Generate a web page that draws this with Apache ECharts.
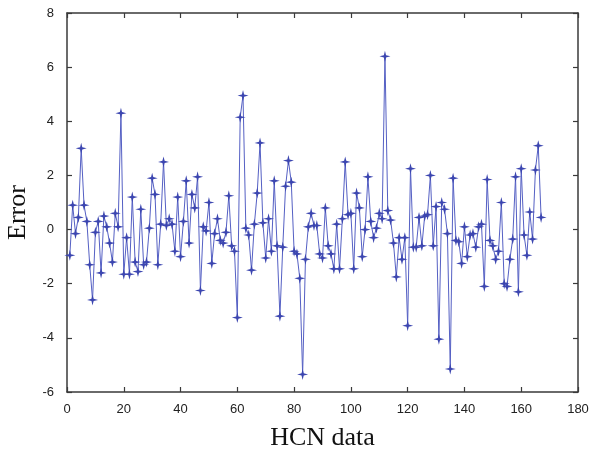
<!DOCTYPE html>
<html>
<head>
<meta charset="utf-8">
<script src="https://cdn.jsdelivr.net/npm/echarts@6/dist/echarts.min.js"></script>
<style>html,body{margin:0;padding:0;background:#fff}#c{width:592px;height:455px}</style>
</head>
<body>
<div id="c"></div>
<script>
// Error values for HCN data samples 1..N
const errors = [
  -0.95, 0.9, -0.15, 0.45, 3.0, 0.9, 0.3, -1.3, -2.6, -0.1,
  0.3, -1.6, 0.5, 0.1, -0.5, -1.2, 0.6, 0.1, 4.3, -1.65,
  -0.3, -1.65, 1.2, -1.2, -1.55, 0.75, -1.3, -1.2, 0.05, 1.9,
  1.3, -1.3, 0.2, 2.5, 0.15, 0.4, 0.2, -0.8, 1.2, -1.0,
  0.3, 1.8, -0.5, 1.3, 0.8, 1.95, -2.25, 0.1, -0.05, 1.0,
  -1.25, -0.15, 0.4, -0.4, -0.5, -0.1, 1.25, -0.6, -0.8, -3.25,
  4.15, 4.95, 0.05, -0.2, -1.5, 0.2, 1.35, 3.2, 0.25, -1.05,
  0.4, -0.8, 1.8, -0.6, -3.2, -0.65, 1.6, 2.55, 1.75, -0.8,
  -0.9, -1.8, -5.35, -1.1, 0.1, 0.6, 0.15, 0.15, -0.9, -1.05,
  0.8, -0.6, -0.9, -1.45, 0.2, -1.45, 0.4, 2.5, 0.55, 0.6,
  -1.45, 1.35, 0.8, -1.0, 0.0, 1.95, 0.3, -0.3, 0.05, 0.6,
  0.4, 6.4, 0.7, 0.35, -0.5, -1.75, -0.3, -1.1, -0.3, -3.55,
  2.25, -0.65, -0.65, 0.45, -0.6, 0.5, 0.55, 2.0, -0.6, 0.85, -4.05,
  1.0, 0.75, -0.15, -5.15, 1.9, -0.4, -0.45, -1.25, 0.1, -1.0,
  -0.2, -0.15, -0.65, 0.1, 0.2, -2.1, 1.85, -0.4, -0.6, -1.1,
  -0.8, 1.0, -2.0, -2.1, -1.1, -0.35, 1.95, -2.3, 2.25, -0.2,
  -0.95, 0.65, -0.35, 2.2, 3.1, 0.45
];
const xTicks = [0, 20, 40, 60, 80, 100, 120, 140, 160, 180];
const yTicks = [-6, -4, -2, 0, 2, 4, 6, 8];

const points = errors.map((v, i) => [i + 1, v]);
const axisColor = '#3a3a3a';
const star = 'path://M0,-6 L1.2,-1.2 L6,0 L1.2,1.2 L0,6 L-1.2,1.2 L-6,0 L-1.2,-1.2 Z';

const chart = echarts.init(document.getElementById('c'), null, {renderer: 'canvas'});
const xRange = {min: xTicks[0], max: xTicks[xTicks.length - 1], interval: 20};
const yRange = {min: yTicks[0], max: yTicks[yTicks.length - 1], interval: 2};
const tick = {show: true, inside: true, length: 5, lineStyle: {color: axisColor, width: 1.2}};
const line = {show: true, onZero: false, lineStyle: {color: axisColor, width: 1.5}};
const labelStyle = {fontFamily: 'Liberation Sans', fontSize: 13, color: '#222'};
const nameStyle = {fontFamily: 'Liberation Serif', fontSize: 26, color: '#111'};
chart.setOption({
  animation: false,
  backgroundColor: '#fff',
  grid: {left: 67, right: 14, top: 13, bottom: 63, containLabel: false, outerBoundsMode: 'none'},
  xAxis: [
    Object.assign({
      type: 'value', position: 'bottom',
      name: 'HCN data', nameLocation: 'middle', nameGap: 33,
      nameTextStyle: nameStyle,
      axisLine: line, axisTick: tick,
      axisLabel: Object.assign({margin: 11}, labelStyle),
      splitLine: {show: false}
    }, xRange),
    Object.assign({
      type: 'value', position: 'top',
      axisLine: line, axisTick: tick,
      axisLabel: {show: false}, splitLine: {show: false}
    }, xRange)
  ],
  yAxis: [
    Object.assign({
      type: 'value', position: 'left',
      name: 'Error', nameLocation: 'middle', nameGap: 28,
      nameTextStyle: Object.assign({padding: [0, 20, 0, 0]}, nameStyle),
      axisLine: line, axisTick: tick,
      axisLabel: Object.assign({margin: 13}, labelStyle),
      splitLine: {show: false}
    }, yRange),
    Object.assign({
      type: 'value', position: 'right',
      axisLine: line, axisTick: tick,
      axisLabel: {show: false}, splitLine: {show: false}
    }, yRange)
  ],
  series: [{
    type: 'line',
    data: points,
    symbol: star,
    symbolSize: 11,
    showAllSymbol: true,
    lineStyle: {color: '#5560c4', width: 1},
    itemStyle: {color: '#3c46b0'}
  }]
});
</script>
</body>
</html>
